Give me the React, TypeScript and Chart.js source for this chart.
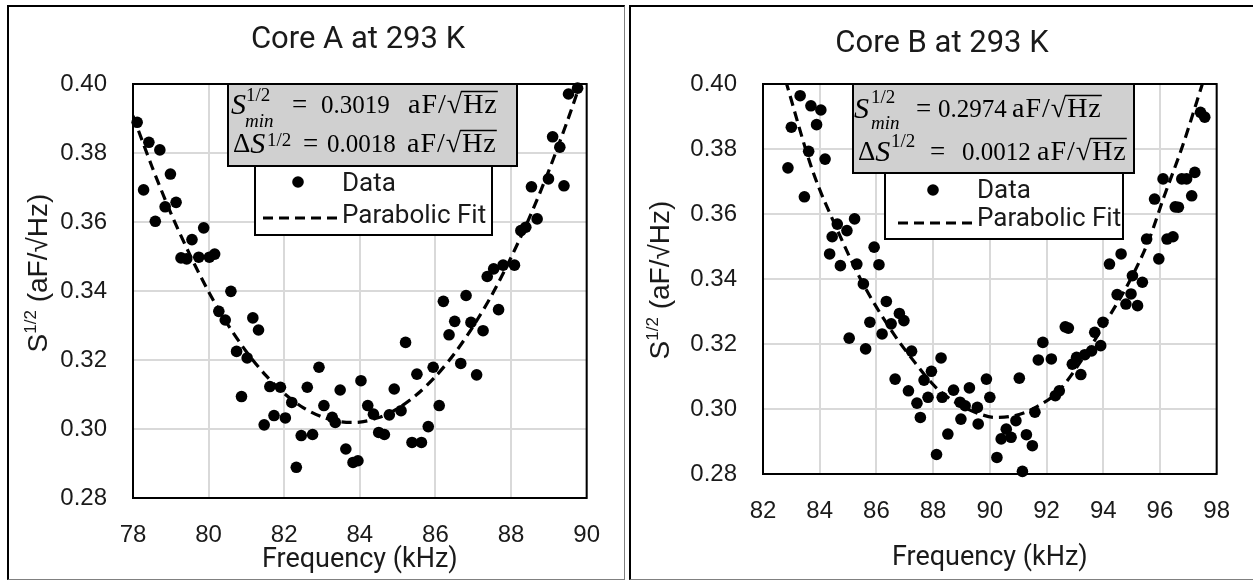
import React, { useEffect, useRef } from 'react';
import { Chart, registerables } from 'chart.js';

Chart.register(...registerables);

// ---------- Data ----------
const yTickValues = [0.28, 0.3, 0.32, 0.34, 0.36, 0.38, 0.4];
const coreAXTicks = [78, 80, 82, 84, 86, 88, 90];
const coreBXTicks = [82, 84, 86, 88, 90, 92, 94, 96, 98];

const coreAFreq = [
  78.11, 78.42, 78.71, 78.99, 78.28, 78.85, 79.14, 78.59, 79.87, 79.56,
  79.27, 79.42, 79.74, 80.02, 80.16, 80.59, 80.27, 80.44, 81.17, 81.32,
  80.74, 81.02, 80.87, 81.62, 81.9, 82.92, 82.2, 82.61, 81.47, 81.73,
  82.03, 82.45, 82.75, 82.32, 83.05, 83.27, 83.35, 83.48, 83.63, 83.82,
  83.95, 84.03, 84.21, 84.36, 84.5, 84.65, 84.78, 84.91, 85.09, 85.21,
  85.38, 85.63, 85.51, 85.81, 85.94, 86.1, 86.21, 86.36, 86.51, 86.67,
  86.81, 86.94, 87.09, 87.26, 87.67, 87.37, 87.54, 87.79, 88.09, 88.26,
  88.39, 88.69, 88.54, 88.99, 89.4, 89.1, 89.29, 89.52, 89.76,
];
const coreANoise = [
  0.3889, 0.3831, 0.3809, 0.3739, 0.3693, 0.3644, 0.3657, 0.3602, 0.3583, 0.3549,
  0.3496, 0.3493, 0.3498, 0.3498, 0.3507, 0.3399, 0.3341, 0.3316, 0.3322, 0.3287,
  0.3225, 0.3206, 0.3094, 0.3123, 0.3121, 0.3179, 0.3077, 0.3121, 0.3012, 0.3039,
  0.3032, 0.2981, 0.2984, 0.2889, 0.3068, 0.3034, 0.3019, 0.3113, 0.2942, 0.2903,
  0.2908, 0.314, 0.3068, 0.3043, 0.299, 0.2984, 0.3041, 0.3116, 0.3053, 0.3251,
  0.2961, 0.2961, 0.3159, 0.3007, 0.3179, 0.3068, 0.337, 0.3273, 0.3312, 0.319,
  0.3387, 0.3309, 0.3157, 0.3285, 0.3346, 0.3442, 0.3464, 0.3475, 0.3475, 0.3575,
  0.3585, 0.3609, 0.3702, 0.3725, 0.3705, 0.3847, 0.3817, 0.3971, 0.3988,
];
const coreAFitFreq = [
  78, 78.5, 79, 79.5, 80, 80.5, 81, 81.5, 82, 82.5, 83, 83.5, 84, 84.5, 85,
  85.5, 86, 86.5, 87, 87.5, 88, 88.5, 89, 89.5, 90,
];
const coreAFitNoise = [
  0.3908, 0.3761, 0.3626, 0.3506, 0.3398, 0.3304, 0.3224, 0.3157, 0.3103, 0.3062,
  0.3035, 0.3021, 0.302, 0.3033, 0.3059, 0.3099, 0.3152, 0.3218, 0.3298, 0.339,
  0.3497, 0.3616, 0.3749, 0.3896, 0.4055,
];

const coreBFreq = [
  83.31, 83.69, 84.04, 83.89, 83.0, 83.61, 84.19, 82.88, 83.46, 85.23,
  84.62, 84.96, 84.44, 84.35, 84.73, 85.31, 85.92, 86.09, 85.54, 86.35,
  86.81, 86.97, 85.77, 86.52, 86.2, 85.04, 85.62, 87.24, 88.28, 87.94,
  86.66, 87.68, 87.13, 87.82, 87.43, 88.32, 88.72, 89.28, 89.88, 88.95,
  89.13, 89.56, 90.0, 87.55, 88.98, 89.59, 88.52, 88.12, 91.04, 90.4,
  90.58, 90.75, 90.25, 90.92, 91.29, 91.5, 91.15, 91.59, 91.71, 91.87,
  92.17, 92.31, 92.45, 92.66, 92.77, 92.91, 93.06, 93.21, 93.35, 93.59,
  93.7, 93.91, 93.99, 94.22, 94.63, 94.49, 94.8, 94.98, 95.21, 95.03,
  95.38, 95.53, 95.96, 96.25, 96.46, 95.81, 96.11, 96.54, 96.65, 97.12,
  96.77, 96.94, 97.23, 97.43, 97.58,
];
const coreBNoise = [
  0.3964, 0.3933, 0.392, 0.3875, 0.3867, 0.3793, 0.3769, 0.3742, 0.3653, 0.3585,
  0.3569, 0.3549, 0.353, 0.3477, 0.3441, 0.3446, 0.3498, 0.3444, 0.3385, 0.3331,
  0.3294, 0.3272, 0.3267, 0.3262, 0.3231, 0.3218, 0.3185, 0.3178, 0.3157, 0.3116,
  0.3092, 0.3089, 0.3056, 0.3036, 0.3018, 0.3036, 0.3058, 0.3065, 0.3092, 0.3021,
  0.301, 0.3005, 0.3036, 0.2974, 0.2969, 0.2954, 0.2923, 0.286, 0.3095, 0.2908,
  0.2938, 0.2913, 0.2851, 0.2964, 0.2921, 0.2887, 0.2808, 0.299, 0.3151, 0.3205,
  0.3154, 0.3041, 0.3056, 0.3253, 0.3249, 0.3138, 0.3159, 0.3106, 0.3167, 0.3179,
  0.3236, 0.3195, 0.3267, 0.3446, 0.3477, 0.3352, 0.3323, 0.3354, 0.3318, 0.341,
  0.339, 0.3523, 0.3462, 0.3523, 0.353, 0.3646, 0.3708, 0.3622, 0.3621, 0.3656,
  0.3708, 0.3708, 0.3728, 0.3913, 0.3898,
];
const coreBFitFreq = [
  82.8, 83.75, 84.6, 85.5, 86.5, 87.34, 88.15, 89.0, 89.6, 90.2,
  90.9, 91.6, 92.43, 93.35, 94.28, 94.97, 95.61, 96.13, 96.8, 97.55,
];
const coreBFitNoise = [
  0.401, 0.3733, 0.3555, 0.339, 0.3245, 0.3145, 0.3062, 0.301, 0.2986, 0.2974,
  0.298, 0.3004, 0.3056, 0.3165, 0.3295, 0.34, 0.352, 0.365, 0.381, 0.4015,
];

const panelTitles = ['Core A at 293 K', 'Core B at 293 K'];
const sMinValues = ['0.3019', '0.2974'];
const deltaSValues = ['0.0018', '0.0012'];
const legendLabels = ['Data', 'Parabolic Fit'];
const xAxisTitle = 'Frequency (kHz)';

// ---------- Layout (canvas coordinates) ----------
const TEXT = '#1a1a1a';
const SERIF = '"Liberation Serif", "Times New Roman", serif';
const SANS = '"Liberation Sans", Arial, sans-serif';
const ROBOTO = 'Roboto, "Open Sans", sans-serif';

type PanelCfg = {
  left: number; top: number; w: number; h: number;
  plot: { left: number; top: number; right: number; bottom: number };
  xMin: number; xMax: number; xTicks: number[];
  freq: number[]; noise: number[]; fitFreq: number[]; fitNoise: number[]; fitMode: string; fitTension: number;
  title: string; titleX: number; titleBase: number;
  yTitleX: number; yTitleCY: number;
  sMin: string; dS: string;
  box: { x: number; y: number; w: number; h: number };
  l1: { base: number; sX: number; supX: number; supBase: number; subX: number; subBase: number; eqX: number; numX: number; uX: number };
  l2: { base: number; dX: number; supX: number; supBase: number; eqX: number; numX: number; uX: number };
  leg: { x: number; y: number; w: number; h: number; dotX: number; dotY: number; textX: number; dataY: number; fitY: number; dashX1: number; dashX2: number; dashY: number };
  xTitlePad: number;
};

const panels: PanelCfg[] = [
  {
    left: 9, top: 7, w: 614, h: 572,
    plot: { left: 124, top: 77, right: 592, bottom: 491 },
    xMin: 78, xMax: 90, xTicks: coreAXTicks,
    freq: coreAFreq, noise: coreANoise, fitFreq: coreAFitFreq, fitNoise: coreAFitNoise, fitMode: 'default', fitTension: 0.3,
    title: panelTitles[0], titleX: 349, titleBase: 41,
    yTitleX: 38, yTitleCY: 266,
    sMin: sMinValues[0], dS: deltaSValues[0],
    box: { x: 219, y: 77, w: 289, h: 82 },
    l1: { base: 106, sX: 222, supX: 237, supBase: 94, subX: 236, subBase: 120, eqX: 283, numX: 312, uX: 399 },
    l2: { base: 145, dX: 224, supX: 258, supBase: 139, eqX: 294, numX: 318, uX: 398 },
    leg: { x: 246, y: 159, w: 237, h: 69, dotX: 289, dotY: 175, textX: 333, dataY: 177, fitY: 209, dashX1: 254, dashX2: 329, dashY: 211 },
    xTitlePad: 3,
  },
  {
    left: 632, top: 7, w: 621, h: 572,
    plot: { left: 131, top: 77, right: 592, bottom: 467 },
    xMin: 82, xMax: 98, xTicks: coreBXTicks,
    freq: coreBFreq, noise: coreBNoise, fitFreq: coreBFitFreq, fitNoise: coreBFitNoise, fitMode: 'monotone', fitTension: 0,
    title: panelTitles[1], titleX: 310, titleBase: 45,
    yTitleX: 37, yTitleCY: 273,
    sMin: sMinValues[1], dS: deltaSValues[1],
    box: { x: 221, y: 77, w: 281, h: 89 },
    l1: { base: 110, sX: 222, supX: 239, supBase: 96, subX: 239, subBase: 122, eqX: 284, numX: 306, uX: 380 },
    l2: { base: 153, dX: 226, supX: 259, supBase: 140, eqX: 298, numX: 330, uX: 405 },
    leg: { x: 253, y: 166, w: 238, h: 66, dotX: 301, dotY: 183, textX: 345, dataY: 184, fitY: 212, dashX1: 266, dashX2: 340, dashY: 216 },
    xTitlePad: 5,
  },
];

function drawUnit(ctx: CanvasRenderingContext2D, ux: number, base: number) {
  const c = ctx as any;
  ctx.font = `28px ${SERIF}`;
  c.letterSpacing = '1px';
  ctx.fillText('aF/', ux, base);
  let x = ux + ctx.measureText('aF/').width;
  c.letterSpacing = '0px';
  ctx.fillText('\u221A', x, base);
  x += ctx.measureText('\u221A').width;
  c.letterSpacing = '1px';
  ctx.fillText('Hz', x + 1, base);
  const hw = ctx.measureText('Hz').width;
  c.letterSpacing = '0px';
  ctx.lineWidth = 1.4;
  ctx.strokeStyle = '#000';
  ctx.beginPath();
  ctx.moveTo(x - 1, base - 21.5);
  ctx.lineTo(x + hw + 1, base - 21.5);
  ctx.stroke();
}

function makeDecor(p: PanelCfg) {
  return {
    id: 'decor',
    beforeDatasetsDraw(chart: Chart) {
      const { ctx, chartArea: ca } = chart;
      ctx.save();
      ctx.strokeStyle = '#000';
      ctx.lineWidth = 2;
      ctx.strokeRect(ca.left, ca.top, ca.right - ca.left, ca.bottom - ca.top);
      ctx.restore();
    },
    afterDraw(chart: Chart) {
      const ctx = chart.ctx;
      ctx.save();
      ctx.textBaseline = 'alphabetic';
      // chart title
      ctx.fillStyle = TEXT;
      ctx.font = `31px ${ROBOTO}`;
      ctx.textAlign = 'center';
      ctx.fillText(p.title, p.titleX, p.titleBase);
      ctx.textAlign = 'left';

      // y axis title with superscript
      ctx.save();
      ctx.translate(p.yTitleX, p.yTitleCY);
      ctx.rotate(-Math.PI / 2);
      const big = `28px ${SANS}`;
      const small = `17px ${SANS}`;
      ctx.font = big;
      const wS = ctx.measureText('S').width;
      const rest = ' (aF/\u221AHz)';
      const wR = ctx.measureText(rest).width;
      ctx.font = small;
      const wSup = ctx.measureText('1/2').width;
      let x = -(wS + wSup + wR) / 2;
      ctx.font = big;
      ctx.fillText('S', x, 0);
      x += wS;
      ctx.font = small;
      ctx.fillText('1/2', x, -11);
      x += wSup;
      ctx.font = big;
      ctx.fillText(rest, x, 0);
      ctx.restore();

      // statistics box
      const b = p.box;
      ctx.fillStyle = '#d0d0d0';
      ctx.fillRect(b.x, b.y, b.w, b.h);
      ctx.strokeStyle = '#000';
      ctx.lineWidth = 2;
      ctx.strokeRect(b.x, b.y, b.w, b.h);
      ctx.fillStyle = '#000';
      const l1 = p.l1;
      ctx.font = `italic 30px ${SERIF}`;
      ctx.fillText('S', l1.sX, l1.base + 1);
      ctx.font = `19px ${SERIF}`;
      ctx.fillText('1/2', l1.supX, l1.supBase);
      ctx.font = `italic 19px ${SERIF}`;
      ctx.fillText('min', l1.subX, l1.subBase);
      ctx.font = `27px ${SERIF}`;
      ctx.fillText('=', l1.eqX, l1.base);
      ctx.font = `25px ${SERIF}`;
      ctx.fillText(p.sMin, l1.numX, l1.base);
      drawUnit(ctx, l1.uX, l1.base);
      const l2 = p.l2;
      ctx.font = `27px ${SERIF}`;
      ctx.fillText('\u0394', l2.dX, l2.base);
      const wD = ctx.measureText('\u0394').width;
      ctx.font = `italic 30px ${SERIF}`;
      ctx.fillText('S', l2.dX + wD, l2.base + 1);
      ctx.font = `19px ${SERIF}`;
      ctx.fillText('1/2', l2.supX, l2.supBase);
      ctx.font = `27px ${SERIF}`;
      ctx.fillText('=', l2.eqX, l2.base);
      ctx.font = `25px ${SERIF}`;
      ctx.fillText(p.dS, l2.numX, l2.base);
      drawUnit(ctx, l2.uX, l2.base);

      // legend box
      const g = p.leg;
      ctx.fillStyle = '#fff';
      ctx.fillRect(g.x, g.y, g.w, g.h);
      ctx.strokeStyle = '#000';
      ctx.lineWidth = 2;
      ctx.strokeRect(g.x, g.y, g.w, g.h);
      ctx.fillStyle = '#000';
      ctx.beginPath();
      ctx.arc(g.dotX, g.dotY, 5.8, 0, Math.PI * 2);
      ctx.fill();
      ctx.lineWidth = 3.2;
      ctx.setLineDash([10, 6]);
      ctx.beginPath();
      ctx.moveTo(g.dashX1, g.dashY);
      ctx.lineTo(g.dashX2, g.dashY);
      ctx.stroke();
      ctx.setLineDash([]);
      ctx.fillStyle = TEXT;
      ctx.font = `26px ${ROBOTO}`;
      ctx.textBaseline = 'middle';
      ctx.fillText(legendLabels[0], g.textX, g.dataY);
      ctx.fillText(legendLabels[1], g.textX, g.fitY);
      ctx.restore();
    },
  };
}

function Panel({ p }: { p: PanelCfg }) {
  const ref = useRef<HTMLCanvasElement>(null);
  useEffect(() => {
    const canvas = ref.current;
    if (!canvas) return;
    const chart = new Chart(canvas, {
      type: 'scatter',
      data: {
        datasets: [
          {
            label: legendLabels[0],
            data: p.freq.map((x, i) => ({ x, y: p.noise[i] })),
            pointRadius: 5.8,
            pointBackgroundColor: '#000',
            pointBorderWidth: 0,
            showLine: false,
            clip: false,
            order: 0,
          } as any,
          {
            label: legendLabels[1],
            data: p.fitFreq.map((x, i) => ({ x, y: p.fitNoise[i] })),
            showLine: true,
            pointRadius: 0,
            borderColor: '#000',
            borderWidth: 3.2,
            borderDash: [10, 6],
            tension: p.fitTension,
            cubicInterpolationMode: p.fitMode,
            order: 1,
          } as any,
        ],
      },
      options: {
        animation: false,
        responsive: false,
        maintainAspectRatio: false,
        events: [],
        layout: { padding: { top: p.plot.top, right: p.w - p.plot.right, left: 0, bottom: 0 } },
        plugins: { legend: { display: false }, tooltip: { enabled: false }, title: { display: false } },
        scales: {
          x: {
            type: 'linear',
            min: p.xMin,
            max: p.xMax,
            afterBuildTicks: (s: any) => { s.ticks = p.xTicks.map((v) => ({ value: v })); },
            afterFit: (s: any) => { s.height = p.h - p.plot.bottom; },
            grid: { color: '#d9d9d9', lineWidth: 2, drawTicks: false },
            border: { display: false },
            ticks: { font: { family: SANS, size: 24 }, color: TEXT, padding: 23, maxRotation: 0, autoSkip: false },
            title: { display: true, text: xAxisTitle, font: { family: ROBOTO, size: 27 }, color: TEXT, padding: { top: 0, bottom: p.xTitlePad } },
          },
          y: {
            type: 'linear',
            min: 0.28,
            max: 0.4,
            afterBuildTicks: (s: any) => { s.ticks = yTickValues.map((v) => ({ value: v })); },
            afterFit: (s: any) => { s.width = p.plot.left; },
            grid: { color: '#d9d9d9', lineWidth: 2, drawTicks: false },
            border: { display: false },
            ticks: {
              font: { family: SANS, size: 24 },
              color: TEXT,
              padding: 26,
              autoSkip: false,
              callback: (v: any) => Number(v).toFixed(2),
            },
          },
        },
      },
      plugins: [makeDecor(p)],
    });
    return () => chart.destroy();
  }, [p]);
  return (
    <canvas
      ref={ref}
      width={p.w}
      height={p.h}
      style={{ position: 'absolute', left: p.left, top: p.top, width: p.w, height: p.h, display: 'block' }}
    />
  );
}

export default function App() {
  return (
    <div style={{ position: 'absolute', left: 0, top: 0, width: 1253, height: 582, background: '#fff', overflow: 'hidden' }}>
      <div style={{ position: 'absolute', left: 7, top: 5, width: 618, height: 575, boxSizing: 'border-box', borderTop: '2px solid #000', borderLeft: '2px solid #000', borderRight: '1px solid #808080', borderBottom: '1px solid #808080' }} />
      <div style={{ position: 'absolute', left: 629, top: 5, width: 640, height: 575, boxSizing: 'border-box', borderTop: '2px solid #000', borderLeft: '2px solid #000', borderBottom: '1px solid #808080' }} />
      {panels.map((p, i) => <Panel key={i} p={p} />)}
    </div>
  );
}
